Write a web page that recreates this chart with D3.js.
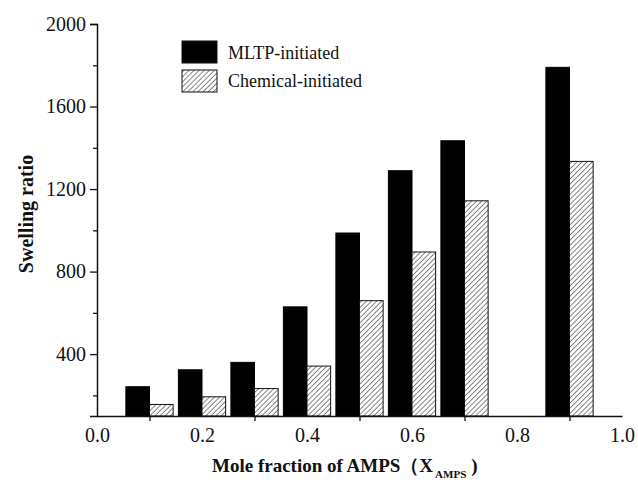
<!DOCTYPE html>
<html>
<head>
    <script src="https://d3js.org/d3.v7.min.js"></script>
</head>
<body style="margin:0">
<script>
    // data
    var xValues = [0.1, 0.2, 0.3, 0.4, 0.5, 0.6, 0.7, 0.9];
    var mltp = [242, 324, 360, 629, 987, 1289, 1434, 1790];
    var chemical = [156, 193, 233, 342, 659, 895, 1143, 1334];
    var seriesNames = ["MLTP-initiated", "Chemical-initiated"];
    var yMajorTicks = [400, 800, 1200, 1600, 2000];
    var yMinorTicks = [200, 600, 1000, 1400, 1800];
    var xLabelTicks = [0.0, 0.2, 0.4, 0.6, 0.8, 1.0];
    var xMarkTicks = [0.1, 0.3, 0.5, 0.7, 0.9];

    var width = 638, height = 485;
    var barW = 0.045; // in x units
    var serif = "Liberation Serif";

    var svg = d3.select("body").append("svg")
        .attr("width", width)
        .attr("height", height)
        .style("display", "block");

    var defs = svg.append("defs");
    defs.append("pattern")
        .attr("id", "hatch")
        .attr("patternUnits", "userSpaceOnUse")
        .attr("width", 3.6)
        .attr("height", 3.6)
        .attr("patternTransform", "rotate(45)")
        .call(function (p) {
            p.append("rect").attr("width", 3.6).attr("height", 3.6).attr("fill", "#fff");
            p.append("line")
                .attr("x1", 0).attr("y1", 0).attr("x2", 0).attr("y2", 3.6)
                .attr("stroke", "#333").attr("stroke-width", 1.2);
        });

    var x = d3.scaleLinear().domain([0, 1]).range([97, 622]);
    var y = d3.scaleLinear().domain([100, 2000]).range([416, 24]);

    var bw = x(barW) - x(0);

    // bars
    svg.append("g").selectAll("rect")
        .data(xValues)
        .enter()
        .append("rect")
        .attr("x", function (d) { return x(d) - bw; })
        .attr("y", function (d, i) { return y(mltp[i]); })
        .attr("width", bw)
        .attr("height", function (d, i) { return y(100) - y(mltp[i]); })
        .attr("fill", "#000")
        .attr("stroke", "#000")
        .attr("stroke-width", 1);

    svg.append("g").selectAll("rect")
        .data(xValues)
        .enter()
        .append("rect")
        .attr("x", function (d) { return x(d); })
        .attr("y", function (d, i) { return y(chemical[i]); })
        .attr("width", bw)
        .attr("height", function (d, i) { return y(100) - y(chemical[i]); })
        .attr("fill", "url(#hatch)")
        .attr("stroke", "#111")
        .attr("stroke-width", 1);

    // y axis
    svg.append("g")
        .attr("class", "axis")
        .attr("transform", "translate(" + x(0) + ",0)")
        .call(d3.axisLeft(y).tickValues(yMajorTicks).tickSize(7).tickPadding(4).tickFormat(d3.format("d")));
    svg.append("g")
        .attr("class", "axis")
        .attr("transform", "translate(" + x(0) + ",0)")
        .call(d3.axisLeft(y).tickValues(yMinorTicks).tickSize(4).tickFormat(""))
        .select(".domain").remove();

    // x axis
    svg.append("g")
        .attr("class", "axis")
        .attr("transform", "translate(0," + y(100) + ")")
        .call(d3.axisBottom(x).tickValues(xLabelTicks).tickSize(0).tickPadding(12).tickFormat(d3.format(".1f")));
    svg.append("g")
        .attr("class", "axis")
        .attr("transform", "translate(0," + y(100) + ")")
        .call(d3.axisBottom(x).tickValues(xMarkTicks).tickSize(5).tickFormat(""))
        .select(".domain").remove();

    svg.selectAll(".axis")
        .attr("font-family", serif)
        .attr("font-size", 20);
    svg.selectAll(".axis text").attr("fill", "#111");
    svg.selectAll(".axis line").attr("stroke", "#111").attr("stroke-width", 1.3);
    svg.selectAll(".axis .domain").attr("stroke", "#111").attr("stroke-width", 1.5);

    // axis titles
    svg.append("text")
        .attr("transform", "translate(33,214) rotate(-90)")
        .attr("text-anchor", "middle")
        .attr("font-family", serif)
        .attr("font-size", 20)
        .attr("font-weight", "bold")
        .attr("fill", "#111")
        .text("Swelling ratio");

    var xt = svg.append("text")
        .attr("x", 212)
        .attr("y", 472)
        .attr("font-family", serif)
        .attr("font-size", 19)
        .attr("font-weight", "bold")
        .attr("fill", "#111");
    xt.append("tspan").text("Mole fraction of AMPS\uFF08X");
    xt.append("tspan").attr("dx", 2).attr("dy", 6).attr("font-size", 11).text("AMPS");
    xt.append("tspan").attr("dx", 5).attr("dy", -6).text(")");

    // legend
    var legend = svg.append("g").attr("transform", "translate(182,41)");
    var fills = ["#000", "url(#hatch)"];
    legend.selectAll("rect")
        .data(seriesNames)
        .enter()
        .append("rect")
        .attr("x", 0)
        .attr("y", function (d, i) { return i * 29; })
        .attr("width", 35)
        .attr("height", 22)
        .attr("fill", function (d, i) { return fills[i]; })
        .attr("stroke", "#111")
        .attr("stroke-width", 1);
    legend.selectAll("text")
        .data(seriesNames)
        .enter()
        .append("text")
        .attr("x", 46)
        .attr("y", function (d, i) { return 18 + i * 28; })
        .attr("font-family", serif)
        .attr("font-size", 18)
        .attr("fill", "#111")
        .text(function (d) { return d; });
</script>
</body>
</html>
